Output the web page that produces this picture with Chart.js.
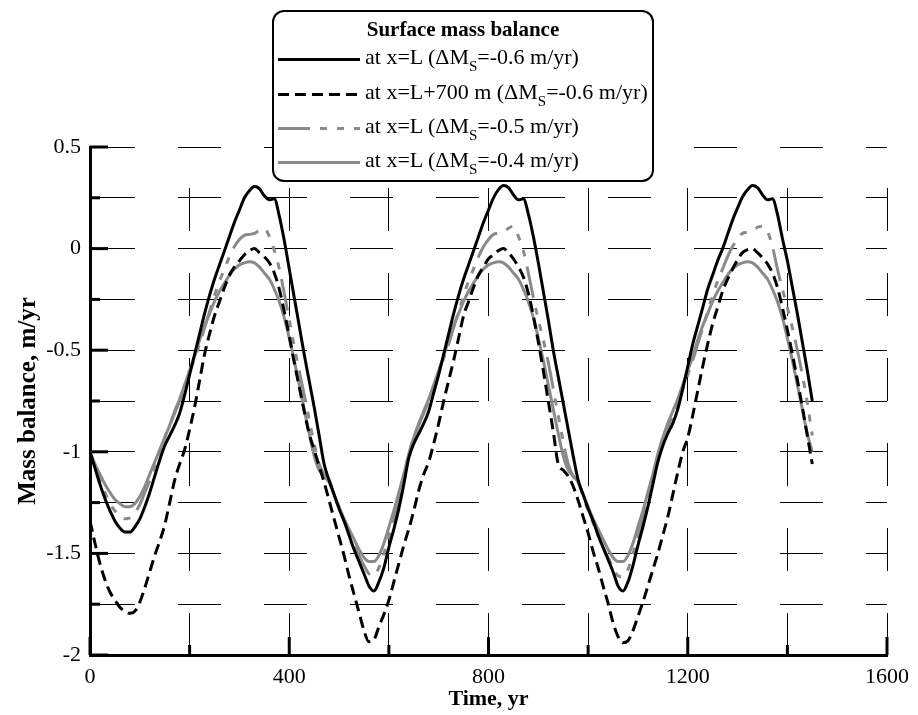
<!DOCTYPE html>
<html>
<head>
<meta charset="utf-8">
<script src="https://cdn.jsdelivr.net/npm/chart.js@4.4.0/dist/chart.umd.min.js"></script>
<style>
body { margin: 0; background: #fff; }
#wrap { position: relative; width: 918px; height: 715px; }
#legend { position: absolute; left: 272px; top: 10px; width: 382px; height: 172px; box-sizing: border-box;
  border: 2.5px solid #000; border-radius: 12px; background: #fff; font-family: "Liberation Serif", serif; color: #000; }
#legend .ttl { position: absolute; left: 0; right: 0; top: 5px; text-align: center; font-weight: bold; font-size: 21px; line-height: 24px; }
#legend .row { position: absolute; left: 0; width: 370px; height: 24px; font-size: 22px; line-height: 24px; white-space: nowrap; }
#legend .row svg { position: absolute; left: 3px; top: 0; }
#legend .row span { position: absolute; left: 91px; top: 0; }
#legend sub { font-size: 15px; vertical-align: -7px; line-height: 0; }
</style>
</head>
<body>
<div id="wrap">
  <canvas id="c" width="918" height="715"></canvas>
  <div id="legend">
    <div class="ttl">Surface mass balance</div>
    <div class="row" style="top:33px"><svg width="84" height="24"><line x1="1" y1="14.5" x2="83" y2="14.5" stroke="#000" stroke-width="3"/></svg><span>at x=L (&Delta;M<sub>S</sub>=-0.6 m/yr)</span></div>
    <div class="row" style="top:67.5px"><svg width="84" height="24"><line x1="1" y1="14.5" x2="83" y2="14.5" stroke="#000" stroke-width="3" stroke-dasharray="11 6"/></svg><span>at x=L+700 m (&Delta;M<sub>S</sub>=-0.6 m/yr)</span></div>
    <div class="row" style="top:101.5px"><svg width="84" height="24"><line x1="1" y1="14.5" x2="83" y2="14.5" stroke="#8a8a8a" stroke-width="3" stroke-dasharray="32 10 7 10 7 10 7 10"/></svg><span>at x=L (&Delta;M<sub>S</sub>=-0.5 m/yr)</span></div>
    <div class="row" style="top:136px"><svg width="84" height="24"><line x1="1" y1="14.5" x2="83" y2="14.5" stroke="#8a8a8a" stroke-width="3"/></svg><span>at x=L (&Delta;M<sub>S</sub>=-0.4 m/yr)</span></div>
  </div>
</div>
<script>
// time axis, yr
var years = [0,10,20,30,40,50,60,70,80,90,100,110,120,130,140,150,160,170,180,190,
  200,210,220,230,240,250,260,270,280,290,300,310,320,330,340,350,360,370,380,390,
  400,410,420,430,440,450,460,470,480,490,500,510,520,530,540,550,560,570,580,590,
  600,610,620,630,640,650,660,670,680,690,700,710,720,730,740,750,760,770,780,790,
  800,810,820,830,840,850,860,870,880,890,900,910,920,930,940,950,960,970,980,990,
  1000,1010,1020,1030,1040,1050,1060,1070,1080,1090,1100,1110,1120,1130,1140,1150,1160,1170,1180,1190,
  1200,1210,1220,1230,1240,1250,1260,1270,1280,1290,1300,1310,1320,1330,1340,1350,1360,1370,1380,1390,
  1400,1410,1420,1430,1440,1450];

// at x=L, dMs=-0.6
var mbL06 = [-1.00,-1.08,-1.16,-1.23,-1.29,-1.34,-1.375,-1.395,-1.395,-1.37,-1.33,-1.27,-1.20,-1.12,-1.04,-0.97,-0.92,-0.87,-0.81,-0.72,
  -0.62,-0.52,-0.42,-0.32,-0.23,-0.15,-0.08,-0.01,0.06,0.13,0.19,0.25,0.285,0.305,0.295,0.26,0.24,0.245,0.16,0.04,
  -0.10,-0.24,-0.38,-0.52,-0.65,-0.78,-0.92,-1.06,-1.14,-1.21,-1.28,-1.34,-1.41,-1.48,-1.54,-1.60,-1.66,-1.685,-1.64,-1.57,
  -1.47,-1.38,-1.28,-1.16,-1.03,-0.96,-0.91,-0.86,-0.80,-0.71,-0.62,-0.52,-0.42,-0.32,-0.23,-0.15,-0.08,-0.01,0.06,0.13,
  0.19,0.25,0.29,0.31,0.30,0.265,0.24,0.245,0.17,0.06,-0.07,-0.21,-0.35,-0.50,-0.63,-0.76,-0.89,-1.02,-1.14,-1.21,
  -1.28,-1.34,-1.41,-1.47,-1.53,-1.59,-1.66,-1.685,-1.64,-1.56,-1.46,-1.37,-1.27,-1.16,-1.05,-0.97,-0.91,-0.86,-0.79,-0.69,
  -0.58,-0.47,-0.38,-0.29,-0.20,-0.13,-0.06,0.00,0.07,0.14,0.20,0.255,0.29,0.31,0.30,0.265,0.24,0.245,0.17,0.05,
  -0.06,-0.19,-0.32,-0.46,-0.60,-0.75];

// at x=L+700 m, dMs=-0.6
var mbL700 = [-1.34,-1.45,-1.55,-1.63,-1.69,-1.73,-1.765,-1.785,-1.795,-1.785,-1.74,-1.67,-1.59,-1.51,-1.44,-1.36,-1.25,-1.14,-1.06,-0.99,
  -0.89,-0.78,-0.65,-0.52,-0.42,-0.33,-0.26,-0.19,-0.13,-0.09,-0.06,-0.03,-0.01,0.00,-0.02,-0.04,-0.07,-0.12,-0.20,-0.31,
  -0.43,-0.56,-0.68,-0.80,-0.91,-0.99,-1.07,-1.15,-1.24,-1.33,-1.42,-1.51,-1.61,-1.70,-1.79,-1.88,-1.935,-1.925,-1.86,-1.80,
  -1.73,-1.64,-1.55,-1.46,-1.38,-1.29,-1.19,-1.11,-1.05,-0.96,-0.86,-0.75,-0.65,-0.55,-0.44,-0.33,-0.26,-0.19,-0.13,-0.09,
  -0.05,-0.03,-0.01,0.00,-0.02,-0.05,-0.09,-0.14,-0.22,-0.33,-0.46,-0.60,-0.75,-0.90,-1.06,-1.09,-1.12,-1.17,-1.24,-1.32,
  -1.40,-1.49,-1.57,-1.66,-1.745,-1.84,-1.91,-1.94,-1.93,-1.88,-1.81,-1.74,-1.66,-1.58,-1.50,-1.41,-1.32,-1.21,-1.10,-1.00,
  -0.93,-0.82,-0.70,-0.58,-0.47,-0.37,-0.29,-0.21,-0.15,-0.10,-0.055,-0.02,-0.005,0.00,-0.02,-0.045,-0.075,-0.12,-0.19,-0.29,
  -0.40,-0.52,-0.645,-0.78,-0.92,-1.06];

// at x=L, dMs=-0.5
var mbL05 = [-1.00,-1.07,-1.14,-1.20,-1.255,-1.29,-1.315,-1.33,-1.325,-1.30,-1.26,-1.20,-1.14,-1.07,-1.00,-0.93,-0.87,-0.81,-0.75,-0.68,
  -0.61,-0.54,-0.47,-0.39,-0.31,-0.23,-0.16,-0.10,-0.04,0.01,0.045,0.065,0.07,0.075,0.09,0.10,0.06,-0.01,-0.10,-0.22,
  -0.35,-0.48,-0.60,-0.72,-0.84,-0.96,-1.06,-1.11,-1.14,-1.21,-1.28,-1.34,-1.40,-1.46,-1.51,-1.56,-1.60,-1.61,-1.57,-1.50,
  -1.42,-1.33,-1.23,-1.12,-1.01,-0.93,-0.87,-0.81,-0.75,-0.68,-0.61,-0.54,-0.47,-0.39,-0.31,-0.23,-0.16,-0.10,-0.04,0.01,
  0.045,0.07,0.075,0.08,0.10,0.11,0.06,-0.01,-0.12,-0.24,-0.35,-0.45,-0.56,-0.69,-0.82,-0.95,-1.06,-1.12,-1.15,-1.22,
  -1.29,-1.35,-1.41,-1.47,-1.52,-1.57,-1.61,-1.615,-1.58,-1.50,-1.42,-1.33,-1.24,-1.14,-1.04,-0.95,-0.88,-0.82,-0.76,-0.69,
  -0.62,-0.55,-0.47,-0.39,-0.31,-0.23,-0.16,-0.10,-0.04,0.01,0.05,0.075,0.08,0.085,0.105,0.11,0.085,0.01,-0.10,-0.20,
  -0.29,-0.39,-0.50,-0.62,-0.76,-0.92];

// at x=L, dMs=-0.4
var mbL04 = [-1.00,-1.06,-1.11,-1.16,-1.20,-1.235,-1.255,-1.27,-1.27,-1.255,-1.22,-1.17,-1.11,-1.05,-0.99,-0.93,-0.87,-0.80,-0.74,-0.67,
  -0.60,-0.53,-0.45,-0.38,-0.32,-0.26,-0.21,-0.17,-0.13,-0.10,-0.08,-0.07,-0.065,-0.07,-0.09,-0.12,-0.15,-0.20,-0.26,-0.34,
  -0.44,-0.55,-0.67,-0.79,-0.91,-1.02,-1.09,-1.12,-1.15,-1.21,-1.27,-1.33,-1.38,-1.43,-1.48,-1.52,-1.54,-1.54,-1.51,-1.45,
  -1.37,-1.29,-1.20,-1.11,-1.01,-0.93,-0.86,-0.80,-0.74,-0.67,-0.60,-0.53,-0.45,-0.38,-0.32,-0.26,-0.21,-0.17,-0.13,-0.10,
  -0.08,-0.07,-0.065,-0.07,-0.09,-0.12,-0.15,-0.20,-0.26,-0.34,-0.44,-0.55,-0.67,-0.79,-0.91,-1.02,-1.09,-1.12,-1.15,-1.21,
  -1.27,-1.33,-1.38,-1.43,-1.48,-1.52,-1.54,-1.54,-1.51,-1.45,-1.37,-1.29,-1.20,-1.11,-1.01,-0.93,-0.86,-0.80,-0.74,-0.67,
  -0.60,-0.53,-0.45,-0.38,-0.32,-0.26,-0.21,-0.17,-0.13,-0.10,-0.08,-0.07,-0.065,-0.07,-0.09,-0.12,-0.15,-0.20,-0.26,-0.34,
  -0.44,-0.55,-0.67,-0.79,-0.91,-1.00];

// labelled ticks
var xLabels = [0, 400, 800, 1200, 1600];
var yLabels = [0.5, 0, -0.5, -1, -1.5, -2];

var grayLine = '#8a8a8a';
var serif = 'Liberation Serif';

function pts(arr) {
  return years.map(function(t, i) { return {x: t, y: arr[i]}; });
}

// tick marks drawn inwards, like the original plot
var innerTicks = {
  id: 'innerTicks',
  beforeDatasetsDraw: function(chart) {
    var ctx = chart.ctx, a = chart.chartArea;
    var xs = chart.scales.x, ys = chart.scales.y;
    ctx.save();
    ctx.strokeStyle = '#000';
    ctx.lineWidth = 3;
    ys.ticks.forEach(function(t) {
      var y = ys.getPixelForValue(t.value);
      var len = yLabels.indexOf(t.value) >= 0 ? 18 : 10;
      ctx.beginPath(); ctx.moveTo(a.left, y); ctx.lineTo(a.left + len, y); ctx.stroke();
    });
    xs.ticks.forEach(function(t) {
      var x = xs.getPixelForValue(t.value);
      var len = xLabels.indexOf(t.value) >= 0 ? 18 : 10;
      ctx.beginPath(); ctx.moveTo(x, a.bottom); ctx.lineTo(x, a.bottom - len); ctx.stroke();
    });
    ctx.restore();
  }
};

new Chart(document.getElementById('c'), {
  type: 'line',
  data: {
    datasets: [
      {label: 'at x=L (dMs=-0.6 m/yr)', data: pts(mbL06), borderColor: '#000', borderWidth: 3},
      {label: 'at x=L+700 m (dMs=-0.6 m/yr)', data: pts(mbL700), borderColor: '#000', borderWidth: 3, borderDash: [11, 6]},
      {label: 'at x=L (dMs=-0.5 m/yr)', data: pts(mbL05), borderColor: grayLine, borderWidth: 3, borderDash: [32, 10, 7, 10, 7, 10, 7, 10]},
      {label: 'at x=L (dMs=-0.4 m/yr)', data: pts(mbL04), borderColor: grayLine, borderWidth: 3}
    ]
  },
  options: {
    responsive: false,
    animation: false,
    layout: {padding: {top: 147, right: 25, left: 0, bottom: 0}},
    elements: {
      point: {radius: 0},
      line: {cubicInterpolationMode: 'monotone', fill: false}
    },
    plugins: {legend: {display: false}, tooltip: {enabled: false}},
    scales: {
      x: {
        type: 'linear', min: 0, max: 1600,
        afterFit: function(s) { s.height = 60; },
        ticks: {
          stepSize: 200, autoSkip: false, maxRotation: 0, padding: 9, color: '#000',
          font: {family: serif, size: 22},
          callback: function(v) { return xLabels.indexOf(v) >= 0 ? String(v) : ''; }
        },
        grid: {color: '#000', lineWidth: 1, drawTicks: false},
        border: {display: true, color: '#000', width: 3, dash: [43, 42], dashOffset: 44},
        title: {display: true, text: 'Time, yr', color: '#000', font: {family: serif, size: 22, weight: 'bold'}, padding: {top: 0, bottom: 2}}
      },
      y: {
        min: -2, max: 0.5,
        afterFit: function(s) { s.width = 90; },
        ticks: {
          stepSize: 0.25, autoSkip: false, padding: 9, color: '#000',
          font: {family: serif, size: 22},
          callback: function(v) { return yLabels.indexOf(v) >= 0 ? String(v) : ''; }
        },
        grid: {color: '#000', lineWidth: 1, drawTicks: false},
        border: {display: true, color: '#000', width: 3, dash: [43, 43], dashOffset: 0},
        title: {display: true, text: 'Mass balance, m/yr', color: '#000', font: {family: serif, size: 25, weight: 'bold'}, padding: {top: 14, bottom: 0}}
      }
    }
  },
  plugins: [innerTicks]
});
</script>
</body>
</html>
